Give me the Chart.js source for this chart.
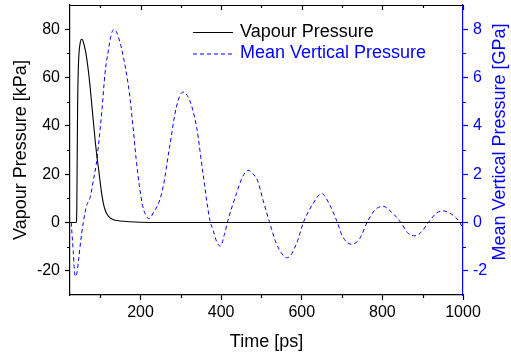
<!DOCTYPE html>
<html>
<head>
<meta charset="utf-8">
<script src="https://cdn.jsdelivr.net/npm/chart.js@4/dist/chart.umd.min.js"></script>
<style>
  html, body { margin: 0; padding: 0; background: #ffffff; }
  #wrap { width: 511px; height: 356px; }
</style>
</head>
<body>
<div id="wrap"><canvas id="c" width="511" height="356"></canvas></div>
<script>
// Vapour pressure (kPa) against time (ps)
const vapourTime = [25, 35, 40, 41, 42, 43, 44, 45.5, 47.5, 50, 53, 56, 60, 65, 70, 75, 80, 84, 88, 92, 96, 100, 104, 109, 115, 122, 130, 138, 150, 172, 200, 250, 1000];
const vapourKPa  = [0, 0, 0, 0.5, 8, 30, 50, 63, 70.5, 74, 75.8, 75.6, 73.5, 69.5, 63.5, 56, 47, 40, 33, 27, 22, 16.5, 11.5, 7, 4, 2.3, 1.3, 0.9, 0.6, 0.3, 0.1, 0, 0];

// Mean vertical pressure (GPa) against time (ps)
const meanTime = [28, 33, 36, 39, 42, 46, 50, 54, 58, 62, 66, 75, 83, 90, 97, 104, 112, 120, 127, 134, 140, 151, 163, 172, 181, 189, 197, 205, 213, 221, 233, 246, 256, 272, 289, 305, 322, 339, 355, 372, 380, 389, 398, 408, 417, 438, 452, 467, 480, 490, 504, 521, 537, 564, 587, 604, 628, 649, 670, 686, 702, 723, 744, 762, 781, 802, 822, 846, 864, 881, 897, 914, 935, 951, 972, 988, 999];
const meanGPa  = [0, -1.2, -2.0, -2.23, -2.1, -1.6, -1.0, -0.45, 0, 0.38, 0.69, 1.04, 1.75, 2.4, 3.4, 4.6, 6.2, 7.1, 7.75, 7.99, 7.9, 7.33, 6.36, 5.4, 4.02, 2.64, 1.54, 0.71, 0.3, 0.16, 0.44, 0.85, 1.47, 3.12, 4.78, 5.4, 5.05, 3.95, 2.02, 0.1, -0.32, -0.8, -0.98, -0.5, 0.1, 1.2, 1.85, 2.16, 2.0, 1.75, 0.92, -0.04, -0.87, -1.46, -0.87, 0, 0.78, 1.2, 0.71, 0.1, -0.6, -0.9, -0.66, 0, 0.51, 0.67, 0.44, 0, -0.45, -0.55, -0.39, 0, 0.4, 0.48, 0.34, 0.1, -0.2];

// Tick values
const timeTicks = [200, 400, 600, 800, 1000];
const timeMinor = [100, 300, 500, 700, 900];
const kPaTicks  = [-20, 0, 20, 40, 60, 80];
const kPaMinor  = [-10, 10, 30, 50, 70];
const gPaTicks  = [-2, 0, 2, 4, 6, 8];
const gPaMinor  = [-1, 1, 3, 5, 7];

const FONT = '"Liberation Sans", Arial, sans-serif';
const BLUE = '#0000ff';
Chart.defaults.font.family = FONT;
Chart.defaults.color = '#000000';

const toPoints = (xs, ys) => xs.map((x, i) => ({ x: x, y: ys[i] }));
const plain = v => String(v);

// fixed box sizes so the plot area sits where it should
const fixBox = (w, h) => s => {
  if (w !== null) s.width = w;
  if (h !== null) s.height = h;
  s.paddingTop = 0; s.paddingBottom = 0; s.paddingLeft = 0; s.paddingRight = 0;
};

// Minor ticks, mirrored top ticks, top frame, legend and right-hand title
const decorations = {
  id: 'decorations',
  afterDraw(chart) {
    const { ctx, chartArea: a, scales } = chart;
    const sx = scales.x, sy = scales.y, sy2 = scales.y2;
    ctx.save();
    ctx.lineWidth = 1.2;

    // top frame line
    ctx.strokeStyle = '#000';
    ctx.beginPath();
    ctx.moveTo(a.left, a.top + 0.5);
    ctx.lineTo(a.right, a.top + 0.5);
    ctx.stroke();

    // x minor ticks (bottom, outward) and top ticks (inward)
    ctx.beginPath();
    timeMinor.forEach(v => {
      const px = Math.round(sx.getPixelForValue(v)) + 0.5;
      ctx.moveTo(px, a.bottom); ctx.lineTo(px, a.bottom + 3);
      ctx.moveTo(px, a.top); ctx.lineTo(px, a.top + 3);
    });
    timeTicks.forEach(v => {
      const px = Math.round(sx.getPixelForValue(v)) + 0.5;
      ctx.moveTo(px, a.top); ctx.lineTo(px, a.top + 5);
    });
    // left minor ticks
    kPaMinor.forEach(v => {
      const py = Math.round(sy.getPixelForValue(v)) + 0.5;
      ctx.moveTo(a.left, py); ctx.lineTo(a.left - 3, py);
    });
    ctx.stroke();

    // right minor ticks
    ctx.strokeStyle = BLUE;
    ctx.beginPath();
    gPaMinor.forEach(v => {
      const py = Math.round(sy2.getPixelForValue(v)) + 0.5;
      ctx.moveTo(a.right, py); ctx.lineTo(a.right + 3, py);
    });
    ctx.stroke();

    // legend
    const ds = chart.data.datasets;
    const lx = a.left + 123, tx = a.left + 170;
    const rows = [a.top + 27, a.top + 48.5];
    ctx.font = '18px ' + FONT;
    ctx.textBaseline = 'middle';
    ctx.textAlign = 'left';
    ds.forEach((d, i) => {
      ctx.strokeStyle = d.borderColor;
      ctx.lineWidth = d.borderWidth;
      ctx.setLineDash(d.borderDash || []);
      ctx.beginPath();
      ctx.moveTo(lx, rows[i] + 0.5);
      ctx.lineTo(lx + 40, rows[i] + 0.5);
      ctx.stroke();
      ctx.fillStyle = i === 0 ? '#000' : BLUE;
      ctx.fillText(d.label, tx, rows[i]);
    });
    ctx.setLineDash([]);

    // right axis title, reading upward
    ctx.fillStyle = BLUE;
    ctx.translate(a.right + 37, 142);
    ctx.rotate(-Math.PI / 2);
    ctx.textAlign = 'center';
    ctx.fillText('Mean Vertical Pressure [GPa]', 0, 0);
    ctx.restore();
  }
};

new Chart(document.getElementById('c'), {
  type: 'line',
  data: {
    datasets: [
      {
        label: 'Vapour Pressure',
        data: toPoints(vapourTime, vapourKPa),
        yAxisID: 'y',
        borderColor: '#000000',
        borderWidth: 1.1,
        pointRadius: 0,
        cubicInterpolationMode: 'monotone'
      },
      {
        label: 'Mean Vertical Pressure',
        data: toPoints(meanTime, meanGPa),
        yAxisID: 'y2',
        borderColor: BLUE,
        borderWidth: 1,
        borderDash: [4, 3],
        pointRadius: 0,
        cubicInterpolationMode: 'monotone'
      }
    ]
  },
  options: {
    responsive: false,
    animation: false,
    devicePixelRatio: 1,
    layout: { padding: { top: 5, left: 0, right: 0, bottom: 0 } },
    plugins: { legend: { display: false }, tooltip: { enabled: false } },
    scales: {
      x: {
        type: 'linear',
        position: 'bottom',
        min: 25,
        max: 1000,
        afterBuildTicks: s => { s.ticks = timeTicks.map(v => ({ value: v })); },
        afterFit: fixBox(null, 61),
        ticks: { font: { size: 16 }, color: '#000', padding: 3, maxRotation: 0, callback: plain },
        grid: { drawOnChartArea: false, drawTicks: true, tickLength: 5, color: '#000', tickWidth: 1.2 },
        border: { display: true, color: '#000', width: 1.2 },
        title: { display: true, text: 'Time [ps]', font: { size: 18 }, color: '#000', padding: { top: 0, bottom: 3.5 } }
      },
      y: {
        type: 'linear',
        position: 'left',
        min: -30,
        max: 90,
        afterBuildTicks: s => { s.ticks = kPaTicks.map(v => ({ value: v })); },
        afterFit: fixBox(70, null),
        ticks: { font: { size: 16 }, color: '#000', padding: 5, callback: plain },
        grid: { drawOnChartArea: false, drawTicks: true, tickLength: 5, color: '#000', tickWidth: 1.2 },
        border: { display: true, color: '#000', width: 1.2 },
        title: { display: true, text: 'Vapour Pressure [kPa]', font: { size: 18 }, color: '#000', padding: { top: 10, bottom: 0 } }
      },
      y2: {
        type: 'linear',
        position: 'right',
        min: -3,
        max: 9,
        afterBuildTicks: s => { s.ticks = gPaTicks.map(v => ({ value: v })); },
        afterFit: fixBox(48, null),
        ticks: { font: { size: 16 }, color: BLUE, padding: 5, callback: plain },
        grid: { drawOnChartArea: false, drawTicks: true, tickLength: 5, color: BLUE, tickWidth: 1.2 },
        border: { display: true, color: BLUE, width: 1.2 },
        title: { display: false }
      }
    }
  },
  plugins: [decorations]
});
</script>
</body>
</html>
